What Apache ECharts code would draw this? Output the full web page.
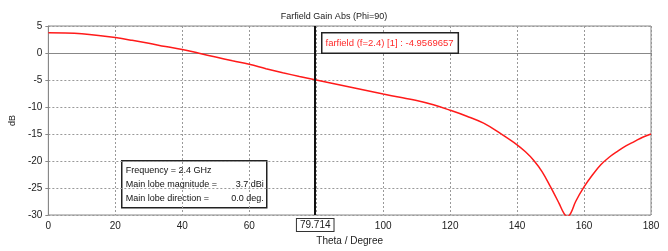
<!DOCTYPE html>
<html>
<head>
<meta charset="utf-8">
<script src="https://cdn.jsdelivr.net/npm/echarts@6/dist/echarts.min.js"></script>
<style>
  html, body { margin: 0; padding: 0; background: #fff; }
  #chart { width: 668px; height: 251px; }
</style>
</head>
<body>
<div id="chart"></div>
<script>
// theta (deg) and gain (dB)
const theta = [0, 5, 10, 15, 20, 25, 30, 35, 40, 45, 50, 55, 60, 65, 70, 75, 80, 85, 90, 95, 100,
    105, 110, 115, 120, 125, 130, 135, 140, 142.5, 145, 147.5, 150, 152.5, 154, 155, 156, 157.5, 160,
    162.5, 165, 167.5, 170, 172.5, 175, 177.5, 180];
const gain = [3.75, 3.7, 3.55, 3.25, 2.85, 2.35, 1.8, 1.2, 0.65, -0.05, -0.75, -1.45, -2.1, -2.9, -3.65, -4.35, -5.0, -5.65, -6.3, -6.95, -7.6,
    -8.2, -8.8, -9.6, -10.6, -11.7, -13.0, -14.9, -17.0, -18.3, -19.9, -22.0, -24.8, -27.8, -29.7, -30.3, -29.7, -27.5, -24.8,
    -22.6, -20.7, -19.3, -18.2, -17.2, -16.4, -15.6, -15.0];
const markerTheta = 79.714;
const markerText = 'farfield (f=2.4) [1] : -4.9569657';
const infoLabels = ['Frequency = 2.4 GHz', 'Main lobe magnitude =', 'Main lobe direction ='];
const infoValues = ['', '3.7 dBi', '0.0 deg.'];

const FONT = 'Liberation Sans';
const chart = echarts.init(document.getElementById('chart'), null, { renderer: 'canvas' });

const option = {
    backgroundColor: '#fff',
    animation: false,
    textStyle: { fontFamily: FONT },
    title: {
        text: 'Farfield Gain Abs (Phi=90)',
        left: 'center',
        top: 7,
        textStyle: { fontSize: 9, fontWeight: 'normal', color: '#222', fontFamily: FONT }
    },
    grid: {
        left: 48, right: 17, top: 26, bottom: 32,
        show: true,
        borderColor: '#888',
        borderWidth: 1
    },
    xAxis: {
        type: 'value',
        min: 0, max: 180, interval: 20,
        name: 'Theta / Degree',
        nameLocation: 'middle',
        nameGap: 21,
        nameTextStyle: { fontSize: 10, color: '#222' },
        axisLine: { lineStyle: { color: '#888' } },
        axisTick: { length: 3, lineStyle: { color: '#888' } },
        axisLabel: { fontSize: 10, color: '#222', margin: 6 },
        splitLine: { lineStyle: { color: '#999', type: [2, 2] } }
    },
    yAxis: {
        type: 'value',
        min: -30, max: 5, interval: 5,
        name: 'dB',
        nameLocation: 'middle',
        nameGap: 28,
        nameRotate: 90,
        nameTextStyle: { fontSize: 9, color: '#222' },
        axisLine: { show: true, lineStyle: { color: '#888' } },
        axisTick: { show: true, length: 3, lineStyle: { color: '#888' } },
        axisLabel: { fontSize: 10, color: '#222', margin: 6 },
        splitLine: { lineStyle: { color: '#999', type: [2, 2] } }
    },
    series: [{
        type: 'line',
        data: theta.map((t, i) => [t, gain[i]]),
        smooth: 0.4,
        showSymbol: false,
        clip: true,
        lineStyle: { color: '#ff1a1a', width: 1.5 },
        markLine: {
            silent: true,
            symbol: 'none',
            lineStyle: { color: '#111', width: 2, type: 'solid' },
            label: {
                position: 'start',
                formatter: String(markerTheta),
                fontSize: 10,
                color: '#222',
                backgroundColor: '#fff',
                borderColor: '#333',
                borderWidth: 1,
                padding: [1, 3, 1, 3],
                distance: 4
            },
            data: [{ xAxis: markerTheta }]
        }
    }],
    graphic: [
        {
            type: 'text',
            left: 321,
            top: 32,
            z: 100,
            style: {
                text: markerText,
                fill: '#ff2a2a',
                font: '9.5px ' + FONT,
                backgroundColor: '#fff',
                borderColor: '#222',
                borderWidth: 1.5,
                padding: [5, 4, 4, 3]
            }
        },
        {
            type: 'group',
            left: 121,
            top: 160,
            z: 100,
            children: [
                {
                    type: 'rect',
                    shape: { x: 0, y: 0, width: 145, height: 47 },
                    style: { fill: '#fff', stroke: '#222', lineWidth: 1.5 }
                },
                ...infoLabels.map((t, i) => ({
                    type: 'text',
                    x: 4, y: 5 + i * 14,
                    style: { text: t, fill: '#111', font: '9px ' + FONT }
                })),
                ...infoValues.map((t, i) => ({
                    type: 'text',
                    x: 142, y: 5 + i * 14,
                    style: { text: t, fill: '#111', font: '9px ' + FONT, align: 'right' }
                }))
            ]
        }
    ]
};

chart.setOption(option);
</script>
</body>
</html>
